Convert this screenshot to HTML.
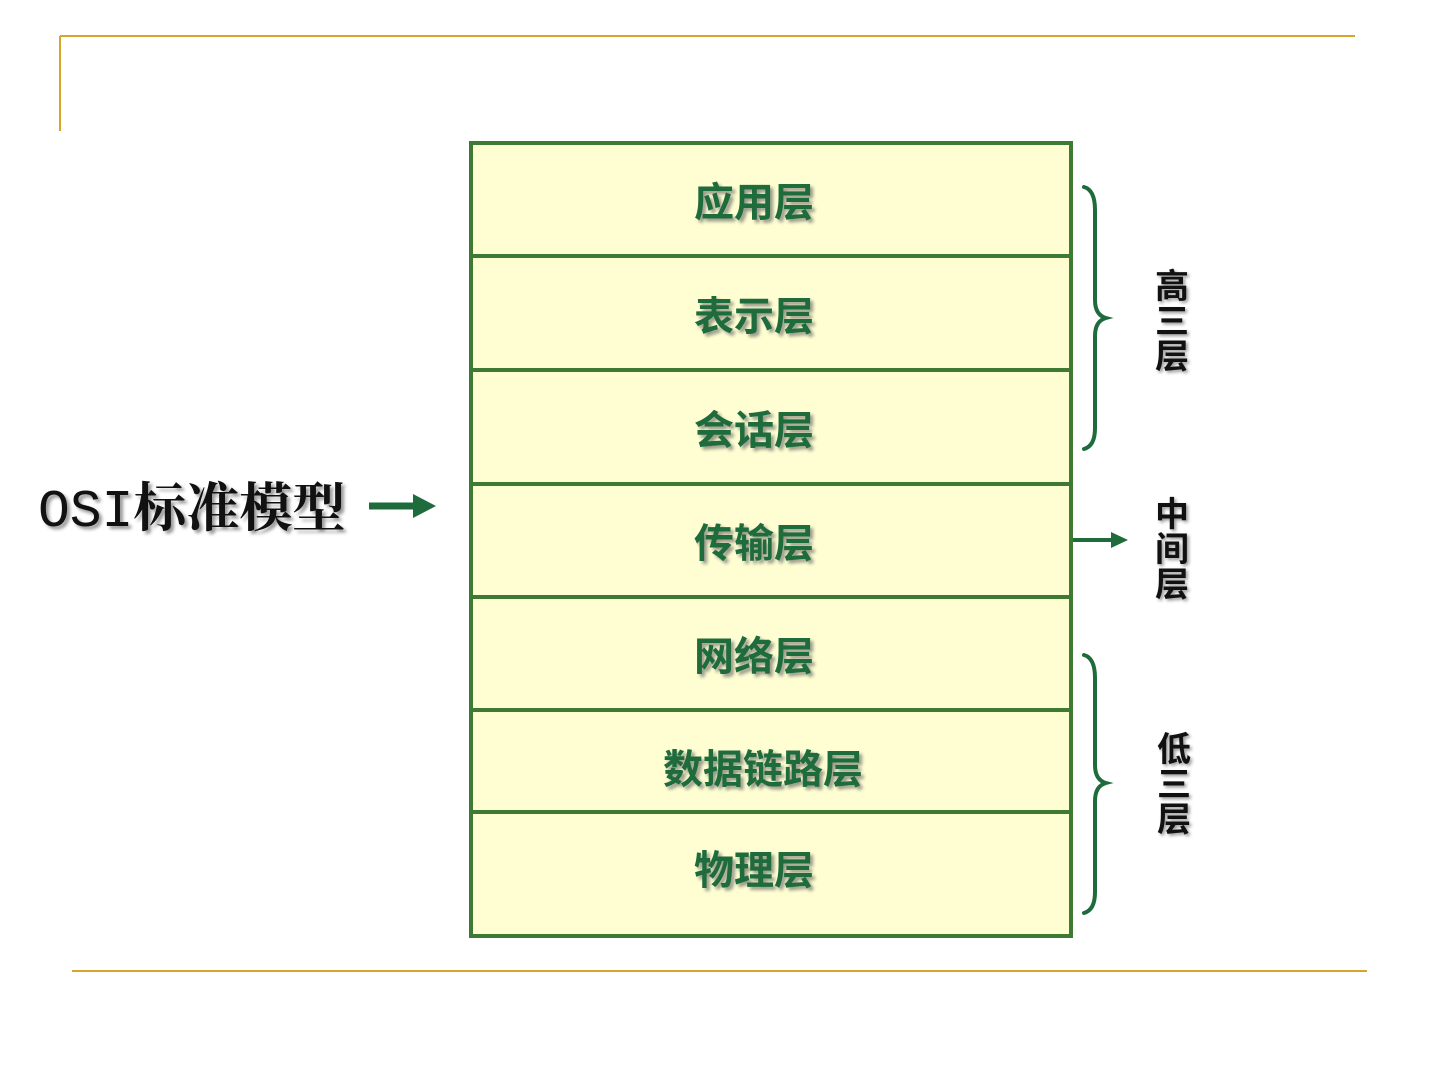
<!DOCTYPE html>
<html><head><meta charset="utf-8"><style>
html,body{margin:0;padding:0;background:#fff;}
body{width:1440px;height:1080px;position:relative;overflow:hidden;font-family:"Liberation Sans","Noto Sans CJK SC",sans-serif;}
.l{position:absolute;left:473px;width:562px;text-align:center;font-size:40px;line-height:50px;font-weight:bold;color:#1e6b3c;text-shadow:3px 3px 3px #9a9a8a;font-family:"Liberation Sans","Noto Sans CJK SC",sans-serif;}
.v{position:absolute;width:40px;font-size:34px;line-height:35px;text-align:center;color:#111;font-weight:bold;text-shadow:2px 2px 3px #999;font-family:"Liberation Sans","Noto Sans CJK SC",sans-serif;}
</style></head><body>
<svg width="1440" height="1080" style="position:absolute;left:0;top:0">
<line x1="60" y1="36" x2="1355" y2="36" stroke="#d4a72c" stroke-width="2"/>
<line x1="60" y1="36" x2="60" y2="131" stroke="#d4a72c" stroke-width="2"/>
<line x1="72" y1="971" x2="1367" y2="971" stroke="#d4a72c" stroke-width="2"/>
<rect x="471" y="143" width="600" height="793" fill="#fefed2" stroke="#3f7a34" stroke-width="4"/>
<g stroke="#3f7a34" stroke-width="4">
<line x1="471" y1="256" x2="1071" y2="256"/>
<line x1="471" y1="370" x2="1071" y2="370"/>
<line x1="471" y1="484" x2="1071" y2="484"/>
<line x1="471" y1="597" x2="1071" y2="597"/>
<line x1="471" y1="710" x2="1071" y2="710"/>
<line x1="471" y1="812" x2="1071" y2="812"/>
</g>
<g fill="none" stroke="#1e6b3c" stroke-width="4" stroke-linecap="round">
<path d="M1084 187 Q1095 190 1095 210 L1095 300 Q1095 315 1106 318 Q1095 321 1095 336 L1095 428 Q1095 446 1084 449"/>
<path d="M1084 655 Q1095 658 1095 678 L1095 765 Q1095 780 1106 783 Q1095 786 1095 801 L1095 892 Q1095 910 1084 913"/>
</g>
<line x1="1073" y1="540" x2="1115" y2="540" stroke="#1e6b3c" stroke-width="4"/>
<polygon points="1111,532 1128,540 1111,548" fill="#1e6b3c"/>
<line x1="369" y1="506" x2="418" y2="506" stroke="#1e6b3c" stroke-width="7"/>
<polygon points="413,494 436,506 413,518" fill="#1e6b3c"/>
</svg>
<div style="position:absolute;left:38px;top:478px;font-size:53px;line-height:68px;color:#111;text-shadow:3px 3px 3px #999;font-family:'Liberation Mono','Noto Serif CJK SC',serif;white-space:nowrap"><span>OSI</span><span style="font-weight:bold">标准模型</span></div>
<div class="l" style="top:178px">应用层</div>
<div class="l" style="top:292px">表示层</div>
<div class="l" style="top:406px">会话层</div>
<div class="l" style="top:519px">传输层</div>
<div class="l" style="top:632px">网络层</div>
<div class="l" style="top:745px;left:482px">数据链路层</div>
<div class="l" style="top:846px">物理层</div>
<div class="v" style="left:1152px;top:270px">高<br>三<br>层</div>
<div class="v" style="left:1152px;top:498px">中<br>间<br>层</div>
<div class="v" style="left:1154px;top:733px">低<br>三<br>层</div>
</body></html>
